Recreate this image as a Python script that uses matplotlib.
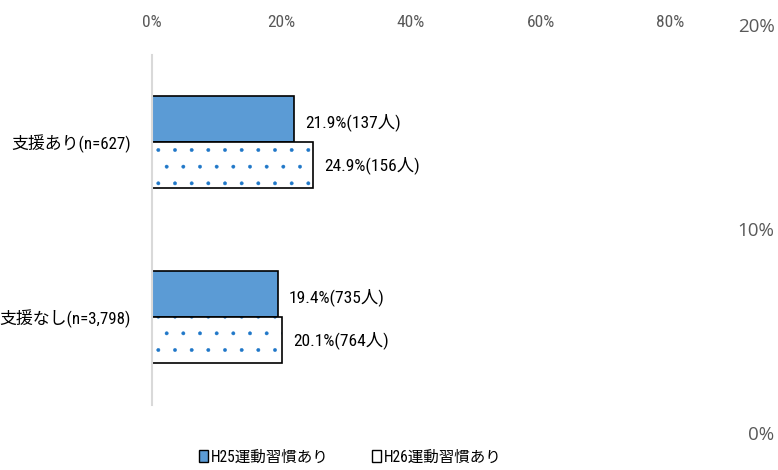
import matplotlib
matplotlib.use("Agg")
import matplotlib.pyplot as plt
from matplotlib.patches import Patch
from matplotlib import font_manager

# データ
categories = ["支援あり(n=627)", "支援なし(n=3,798)"]
h25_rate = [21.9, 19.4]
h26_rate = [24.9, 20.1]
h25_people = [137, 735]
h26_people = [156, 764]
x_ticks = [0, 20, 40, 60, 80]
right_ticks = [0, 10, 20]
legend_labels = ["H25運動習慣あり", "H26運動習慣あり"]

# 細身のフォントを探す
names = {f.name for f in font_manager.fontManager.ttflist}
narrow = None
for cand in ["Liberation Sans Narrow", "Roboto Condensed", "Open Sans Condensed"]:
    if cand in names:
        narrow = cand
        break
if narrow is None:
    narrow = "DejaVu Sans"
    plt.rcParams["font.stretch"] = "condensed"
plt.rcParams["font.family"] = [narrow, "Noto Sans CJK JP", "DejaVu Sans"]
plt.rcParams["hatch.linewidth"] = 0.3

blue = "#5B9BD5"
W, H = 778, 470
fig = plt.figure(figsize=(W / 100, H / 100), dpi=100)

# メインの軸 (0% は x=152, 80% は x=670)
ax = fig.add_axes([152 / W, 1 - 405 / H, 647.5 / W, 350 / H])
ax.set_xlim(0, 100)
ax.set_ylim(1.503, -0.497)

y = list(range(len(categories)))
bh = 0.263
y25 = [v - bh / 2 for v in y]
y26 = [v + bh / 2 for v in y]

ax.barh(y25, h25_rate, height=bh, color=blue, edgecolor="black", linewidth=1.2)
# ドット模様のバー
ax.barh(y26, h26_rate, height=bh, color="white", edgecolor="#1F77C8", hatch=".", linewidth=0)
ax.barh(y26, h26_rate, height=bh, fill=False, edgecolor="black", linewidth=1.2)

for yy, r, n in zip(y25, h25_rate, h25_people):
    ax.text(r + 1.7, yy + 0.02, f"{r}%({n}人)", va="center", ha="left", fontsize=12.5)
for yy, r, n in zip(y26, h26_rate, h26_people):
    ax.text(r + 1.7, yy, f"{r}%({n}人)", va="center", ha="left", fontsize=12.5)

ax.set_yticks(y)
ax.set_yticklabels(categories, fontsize=12.2)
ax.tick_params(axis="y", length=0, pad=15)
ax.xaxis.tick_top()
ax.set_xticks(x_ticks)
ax.set_xticklabels([f"{t}%" for t in x_ticks], fontsize=12.5, color="#595959")
ax.tick_params(axis="x", length=0, pad=18)
for s in ["top", "right", "bottom"]:
    ax.spines[s].set_visible(False)
ax.spines["left"].set_color("#D9D9D9")
ax.spines["left"].set_linewidth(1.5)

# 右側の軸ラベル
ax2 = fig.add_axes([776 / W, 1 - 433 / H, 0.001, 408 / H])
ax2.set_ylim(0, 20)
ax2.set_yticks(right_ticks)
ax2.set_yticklabels([f"{t}%" for t in right_ticks], fontsize=13.5,
                    color="#595959", family=["Open Sans", "DejaVu Sans"],
                    fontstretch="normal")
ax2.tick_params(axis="y", length=0, pad=1)
ax2.set_xticks([])
for s in ax2.spines.values():
    s.set_visible(False)
ax2.patch.set_visible(False)

handles = [Patch(facecolor=blue, edgecolor="black"),
           Patch(facecolor="white", edgecolor="black")]
fig.legend(handles, legend_labels, loc="center", bbox_to_anchor=(350 / W, 1 - 457 / H),
           ncol=2, frameon=False, fontsize=11.2, handlelength=0.6, handleheight=0.8,
           handletextpad=0.15, columnspacing=2.8)

fig.savefig("out.png", dpi=100)
